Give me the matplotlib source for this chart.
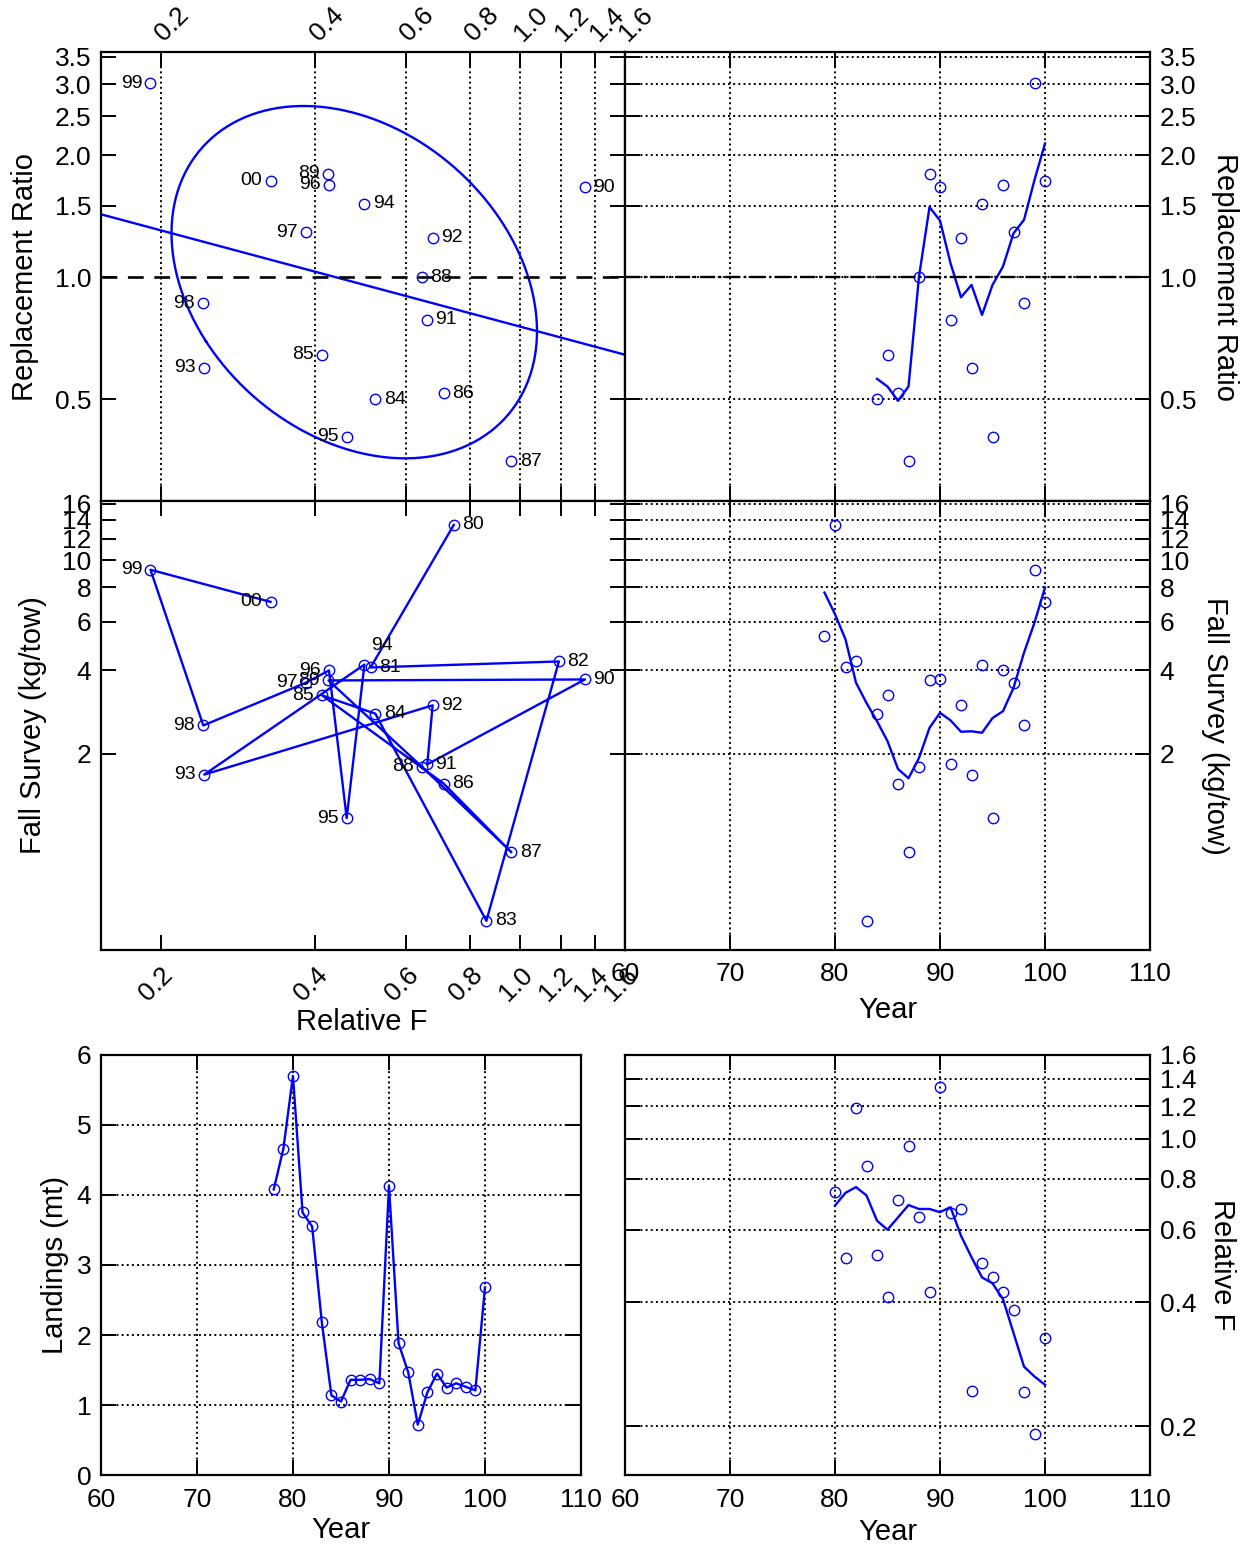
import numpy as np
import matplotlib
matplotlib.use('Agg')
import matplotlib.pyplot as plt
from matplotlib.transforms import ScaledTranslation

plt.rcParams['font.family'] = ['Liberation Sans', 'DejaVu Sans']

# ---- data ----
# Landings (mt), 1978-2000
years_land = [78, 79, 80, 81, 82, 83, 84, 85, 86, 87, 88, 89, 90, 91, 92, 93, 94, 95, 96, 97, 98, 99, 100]
landings = [4.08, 4.66, 5.70, 3.75, 3.55, 2.19, 1.14, 1.05, 1.36, 1.36, 1.37, 1.31,
            4.13, 1.88, 1.47, 0.72, 1.18, 1.45, 1.25, 1.31, 1.26, 1.21, 2.68]

# Relative F, 1980-2000
years_f = [80, 81, 82, 83, 84, 85, 86, 87, 88, 89, 90, 91, 92, 93, 94, 95, 96, 97, 98, 99, 100]
rel_f = [0.743, 0.512, 1.19, 0.860, 0.523, 0.412, 0.710, 0.962, 0.645, 0.424, 1.337,
         0.660, 0.676, 0.243, 0.498, 0.460, 0.425, 0.383, 0.242, 0.191, 0.327]
rel_f_smooth = [0.688, 0.739, 0.763, 0.728, 0.632, 0.601, 0.644, 0.690, 0.675, 0.675, 0.663,
                0.682, 0.581, 0.515, 0.460, 0.445, 0.407, 0.337, 0.279, 0.264, 0.252]

# Fall survey (kg/tow), 1979-2000
years_surv = [79, 80, 81, 82, 83, 84, 85, 86, 87, 88, 89, 90, 91, 92, 93, 94, 95, 96, 97, 98, 99, 100]
survey = [5.33, 13.43, 4.10, 4.31, 0.497, 2.79, 3.25, 1.56, 0.880, 1.79, 3.68, 3.71,
          1.83, 2.99, 1.68, 4.20, 1.17, 4.00, 3.61, 2.53, 9.25, 7.08]
survey_smooth = [7.65, 6.39, 5.18, 3.61, 3.05, 2.62, 2.22, 1.76, 1.63, 1.93, 2.48, 2.81,
                 2.64, 2.40, 2.41, 2.38, 2.69, 2.85, 3.46, 4.64, 5.96, 7.98]

# Replacement ratio, 1984-2000
years_rr = [84, 85, 86, 87, 88, 89, 90, 91, 92, 93, 94, 95, 96, 97, 98, 99, 100]
repl_ratio = [0.50, 0.643, 0.517, 0.351, 1.00, 1.80, 1.67, 0.785, 1.25, 0.598, 1.52,
              0.404, 1.69, 1.29, 0.863, 3.01, 1.73]
repl_smooth = [0.561, 0.537, 0.495, 0.537, 1.004, 1.49, 1.38, 1.083, 0.892, 0.957, 0.807,
               0.957, 1.063, 1.284, 1.386, 1.74, 2.14]

# ticks
f_ticks = [0.2, 0.4, 0.6, 0.8, 1.0, 1.2, 1.4, 1.6]
rr_ticks = [0.5, 1.0, 1.5, 2.0, 2.5, 3.0, 3.5]
surv_ticks = [2, 4, 6, 8, 10, 12, 14, 16]
year_ticks = [60, 70, 80, 90, 100, 110]
land_ticks = [0, 1, 2, 3, 4, 5, 6]

# label sides for the year annotations
left_tl = [99, 100, 89, 96, 97, 98, 85, 93, 95]
left_ml = [99, 100, 96, 97, 89, 85, 98, 93, 88, 95]
above_ml = [94]

F_LIM = (0.153, 1.6)
RR_LIM = (0.28, 3.6)
SURV_LIM = (0.39, 16.4)
BLUE = '#0000ff'
FS_TICK = 19
FS_LAB = 21
FS_PT = 14


def yr_lab(y):
    return '%02d' % (y % 100)


def style(ax):
    for s in ax.spines.values():
        s.set_linewidth(1.6)
    ax.tick_params(which='both', direction='in', length=11, width=1.4,
                   top=True, right=True, labelsize=FS_TICK, pad=7)
    ax.tick_params(axis='x', pad=9)


def dotted_grid(ax, axis='both'):
    ax.grid(True, axis=axis, color='k', linestyle=':', linewidth=1.4)
    ax.set_axisbelow(True)


def circles(ax, x, y):
    ax.plot(x, y, 'o', mfc='none', mec=BLUE, ms=7.5, mew=1.0, ls='none')


def year_note(ax, yr, x, y, side):
    if side == 'left':
        ax.annotate(yr_lab(yr), (x, y), xytext=(-6, 0), textcoords='offset points',
                    ha='right', va='center', fontsize=FS_PT)
    elif side == 'above':
        ax.annotate(yr_lab(yr), (x, y), xytext=(5, 14), textcoords='offset points',
                    ha='left', va='center', fontsize=FS_PT)
    else:
        ax.annotate(yr_lab(yr), (x, y), xytext=(6, 0), textcoords='offset points',
                    ha='left', va='center', fontsize=FS_PT)


fig = plt.figure(figsize=(12.57, 15.53), dpi=100)
L, M, R = 0.0803, 0.4972, 0.9149
ax_tl = fig.add_axes([L, 0.6774, M - L, 0.9665 - 0.6774])
ax_tr = fig.add_axes([M, 0.6774, R - M, 0.9665 - 0.6774])
ax_ml = fig.add_axes([L, 0.3883, M - L, 0.6774 - 0.3883])
ax_mr = fig.add_axes([M, 0.3883, R - M, 0.6774 - 0.3883])
ax_bl = fig.add_axes([L, 0.0502, 0.4622 - L, 0.3207 - 0.0502])
ax_br = fig.add_axes([M, 0.0502, R - M, 0.3207 - 0.0502])

# ---- top left: replacement ratio vs relative F ----
ax = ax_tl
style(ax)
f_rr = np.array(rel_f[years_f.index(84):])
rr = np.array(repl_ratio)
lx, ly = np.log(f_rr), np.log(rr)
# regression line (log-log)
b, a = np.polyfit(lx, ly, 1)
xl = np.linspace(np.log(F_LIM[0]), np.log(F_LIM[1]), 50)
ax.plot(np.exp(xl), np.exp(a + b * xl), color=BLUE, lw=1.7)
# confidence ellipse from covariance
cov = np.cov(lx, ly)
w, v = np.linalg.eigh(cov)
t = np.linspace(0, 2 * np.pi, 300)
circ = np.vstack([np.cos(t), np.sin(t)])
ell = (v @ np.diag(np.sqrt(w)) @ circ) * 1.63
ax.plot(np.exp(lx.mean() + ell[0]), np.exp(ly.mean() + ell[1]), color=BLUE, lw=1.7)
ax.axhline(1.0, color='k', ls=(0, (6, 4)), lw=1.9)
circles(ax, f_rr, rr)
for yr, fx, ry in zip(years_rr, f_rr, rr):
    year_note(ax, yr, fx, ry, 'left' if yr in left_tl else 'right')
ax.set_xscale('log')
ax.set_yscale('log')
ax.set_xlim(*F_LIM)
ax.set_ylim(*RR_LIM)
ax.set_xticks(f_ticks)
ax.set_xticklabels(['%.1f' % v_ for v_ in f_ticks])
ax.set_yticks(rr_ticks)
ax.set_yticklabels(['%.1f' % v_ for v_ in rr_ticks])
ax.minorticks_off()
ax.tick_params(labeltop=True, labelbottom=False)
ax.tick_params(axis='x', pad=7)
plt.setp(ax.get_xticklabels(), rotation=45, ha='left', va='bottom', rotation_mode='anchor')
shift = ScaledTranslation(5 / 72, -2 / 72, fig.dpi_scale_trans)
for lab in ax.get_xticklabels():
    lab.set_transform(lab.get_transform() + shift)
dotted_grid(ax, 'x')
ax.set_ylabel('Replacement Ratio', fontsize=FS_LAB)
ax.yaxis.set_label_coords(-0.145, 0.5)
ax.yaxis.label.set_va('center')

# ---- top right: replacement ratio by year ----
ax = ax_tr
style(ax)
circles(ax, years_rr, repl_ratio)
ax.plot(years_rr, repl_smooth, color=BLUE, lw=1.7)
ax.axhline(1.0, color='k', ls='-.', lw=1.7)
ax.set_yscale('log')
ax.set_xlim(60, 110)
ax.set_ylim(*RR_LIM)
ax.set_xticks(year_ticks)
ax.set_yticks(rr_ticks)
ax.set_yticklabels(['%.1f' % v_ for v_ in rr_ticks])
ax.minorticks_off()
ax.tick_params(labelleft=False, labelright=True, labelbottom=False)
dotted_grid(ax)
ax.yaxis.set_label_position('right')
ax.set_ylabel('Replacement Ratio', fontsize=FS_LAB, rotation=-90)
ax.yaxis.set_label_coords(1.143, 0.5)
ax.yaxis.label.set_va('center')

# ---- middle left: survey vs relative F ----
ax = ax_ml
style(ax)
surv_f = survey[years_surv.index(80):]
ax.plot(rel_f, surv_f, '-o', color=BLUE, mfc='none', mec=BLUE, ms=7.5, mew=1.0, lw=1.7)
for yr, fx, sy in zip(years_f, rel_f, surv_f):
    if yr in above_ml:
        side = 'above'
    elif yr in left_ml:
        side = 'left'
    else:
        side = 'right'
    year_note(ax, yr, fx, sy, side)
ax.set_xscale('log')
ax.set_yscale('log')
ax.set_xlim(*F_LIM)
ax.set_ylim(*SURV_LIM)
ax.set_xticks(f_ticks)
ax.set_xticklabels(['%.1f' % v_ for v_ in f_ticks])
ax.set_yticks(surv_ticks)
ax.set_yticklabels([str(v_) for v_ in surv_ticks])
ax.minorticks_off()
plt.setp(ax.get_xticklabels(), rotation=45, ha='right', va='top', rotation_mode='anchor')
ax.set_xlabel('Relative F', fontsize=FS_LAB)
ax.xaxis.set_label_coords(0.498, -0.16)
ax.xaxis.label.set_va('center')
ax.set_ylabel('Fall Survey (kg/tow)', fontsize=FS_LAB)
ax.yaxis.set_label_coords(-0.13, 0.5)
ax.yaxis.label.set_va('center')

# ---- middle right: survey by year ----
ax = ax_mr
style(ax)
circles(ax, years_surv, survey)
ax.plot(years_surv, survey_smooth, color=BLUE, lw=1.7)
ax.set_yscale('log')
ax.set_xlim(60, 110)
ax.set_ylim(*SURV_LIM)
ax.set_xticks(year_ticks)
ax.set_yticks(surv_ticks)
ax.set_yticklabels([str(v_) for v_ in surv_ticks])
ax.minorticks_off()
ax.tick_params(labelleft=False, labelright=True)
dotted_grid(ax)
ax.set_xlabel('Year', fontsize=FS_LAB)
ax.xaxis.set_label_coords(0.5, -0.134)
ax.xaxis.label.set_va('center')
ax.yaxis.set_label_position('right')
ax.set_ylabel('Fall Survey (kg/tow)', fontsize=FS_LAB, rotation=-90)
ax.yaxis.set_label_coords(1.124, 0.5)
ax.yaxis.label.set_va('center')

# ---- bottom left: landings ----
ax = ax_bl
style(ax)
ax.plot(years_land, landings, '-o', color=BLUE, mfc='none', mec=BLUE, ms=7.5, mew=1.0, lw=1.7)
ax.set_xlim(60, 110)
ax.set_ylim(0, 6)
ax.set_xticks(year_ticks)
ax.set_yticks(land_ticks)
dotted_grid(ax)
ax.set_xlabel('Year', fontsize=FS_LAB)
ax.xaxis.set_label_coords(0.5, -0.131)
ax.xaxis.label.set_va('center')
ax.set_ylabel('Landings (mt)', fontsize=FS_LAB)
ax.yaxis.set_label_coords(-0.096, 0.5)
ax.yaxis.label.set_va('center')

# ---- bottom right: relative F by year ----
ax = ax_br
style(ax)
circles(ax, years_f, rel_f)
ax.plot(years_f, rel_f_smooth, color=BLUE, lw=1.7)
ax.set_yscale('log')
ax.set_xlim(60, 110)
ax.set_ylim(0.152, 1.6)
ax.set_xticks(year_ticks)
ax.set_yticks(f_ticks)
ax.set_yticklabels(['%.1f' % v_ for v_ in f_ticks])
ax.minorticks_off()
ax.tick_params(labelleft=False, labelright=True)
dotted_grid(ax)
ax.set_xlabel('Year', fontsize=FS_LAB)
ax.xaxis.set_label_coords(0.5, -0.136)
ax.xaxis.label.set_va('center')
ax.yaxis.set_label_position('right')
ax.set_ylabel('Relative F', fontsize=FS_LAB, rotation=-90)
ax.yaxis.set_label_coords(1.137, 0.5)
ax.yaxis.label.set_va('center')

fig.savefig('out.png', dpi=100)
